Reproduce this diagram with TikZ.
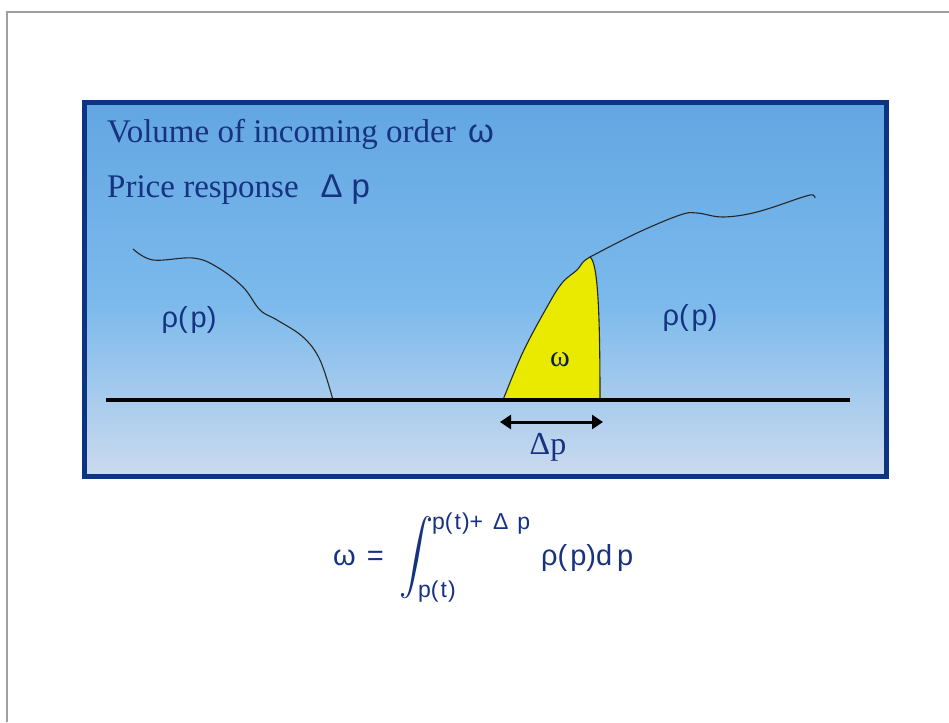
\documentclass[tikz,border=0pt]{standalone}
\usepackage{fontspec}
\usepackage{graphicx}
\usepackage{amsmath}
\usetikzlibrary{arrows.meta,positioning}
\setmainfont{Liberation Serif}
\newfontfamily\sfx{Liberation Sans}
\definecolor{PanelTop}{RGB}{98,166,226}
\definecolor{PanelMid}{RGB}{124,186,236}
\definecolor{PanelBot}{RGB}{204,218,238}
\definecolor{NavyLine}{RGB}{12,52,130}
\definecolor{NavyText}{RGB}{22,50,128}
\definecolor{OrderYellow}{RGB}{234,234,0}
\pgfdeclareverticalshading{panelshade}{100bp}{color(0bp)=(PanelBot); color(25bp)=(PanelBot); color(48bp)=(PanelMid); color(75bp)=(PanelTop); color(100bp)=(PanelTop)}
\tikzset{
  serifbig/.style={font=\fontsize{33}{38}\selectfont, text=NavyText, inner sep=0pt},
  rholabel/.style={font=\sfx\fontsize{29}{34}\selectfont, text=NavyText, inner sep=0pt},
  curve/.style={line width=1.1pt, black!85},
  axisline/.style={line width=4pt, black},
}

\begin{document}
\begin{tikzpicture}[x=1pt, y=-1pt,
    formula/.style={font=\sfx\fontsize{29}{34}\selectfont, text=NavyText, inner sep=0pt},
    limit/.style={font=\sfx\fontsize{23}{27}\selectfont, text=NavyText, inner sep=0pt},
    span/.style={{Triangle[length=11pt,width=14pt]}-{Triangle[length=11pt,width=14pt]}, line width=3pt}
]
    \useasboundingbox (0,0) rectangle (949,722);
    % Page frame
    \draw[gray!75, line width=1.5pt] (7,722) -- (7,12) -- (949,12);

    % Panel
    \shade[shading=panelshade] (84,102) rectangle (887,477);
    \draw[NavyLine, line width=5pt] (84.5,102.5) rectangle (886.5,476.5);

    \node[serifbig, anchor=base west] (volume) at (107,143) {Volume of incoming order\hspace{4pt} {\sfx ω}};
    \node[serifbig, anchor=base west] (response) at (107,197) {Price response\hspace{22pt}{\sfx Δ\hspace{9pt}p}};

    % Order book density
    \draw[curve] plot[smooth, tension=0.6] coordinates {(133,249) (153,260) (193,258) (217,267) (243,287) (260,310) (277,320) (303,337) (320,360) (333,400)};
    \filldraw[curve, fill=OrderYellow] plot[smooth, tension=0.6] coordinates {(503,400) (523,352) (547,307) (562,283) (577,270) (583,262) (590,257)}
        .. controls (597,262) and (600,300) .. (600,400) -- cycle;
    \draw[curve] plot[smooth, tension=0.6] coordinates {(590,257) (637,233) (680,215) (697,213) (723,217) (757,212) (803,197) (813,195) (815,198)};

    \node[rholabel] (rholeft) at (189,320) {ρ(\hspace{3pt}p)};
    \node[rholabel] (rhoright) at (690,318) {ρ(\hspace{3pt}p)};
    \node[font=\fontsize{30}{34}\selectfont, text=NavyText!60!black, inner sep=0pt] (omega) at (560,360) {ω};

    % Price axis
    \coordinate (axisL) at (106,400);
    \coordinate (axisR) at (850,400);
    \draw[axisline] (axisL) -- (axisR);

    % Price response span
    \coordinate (spanL) at (500,422);
    \coordinate (spanR) at (603,422);
    \draw[span] (spanL) -- (spanR);
    \node[font=\fontsize{32}{36}\selectfont, text=NavyText, inner sep=0pt] (dp) at (548,447) {Δp};

    % Formula
    \node[formula, anchor=west] (lhs) at (333,558) {ω\hspace{3pt} =};
    \node[text=NavyText, inner sep=0pt] (integral) at (416,558) {\scalebox{3.4}[3.7]{$\displaystyle\int$}};
    \node[limit, anchor=west] (upper) at (432,524) {p(\hspace{2pt}t\hspace{1pt})+\hspace{10pt}Δ\hspace{9pt}p};
    \node[limit, anchor=west] (lower) at (418,592) {p(\hspace{2pt}t\hspace{1pt})};
    \node[formula, anchor=west] (integrand) at (541,558) {ρ(\hspace{3pt}p)d\hspace{5pt}p};
\end{tikzpicture}
\end{document}
